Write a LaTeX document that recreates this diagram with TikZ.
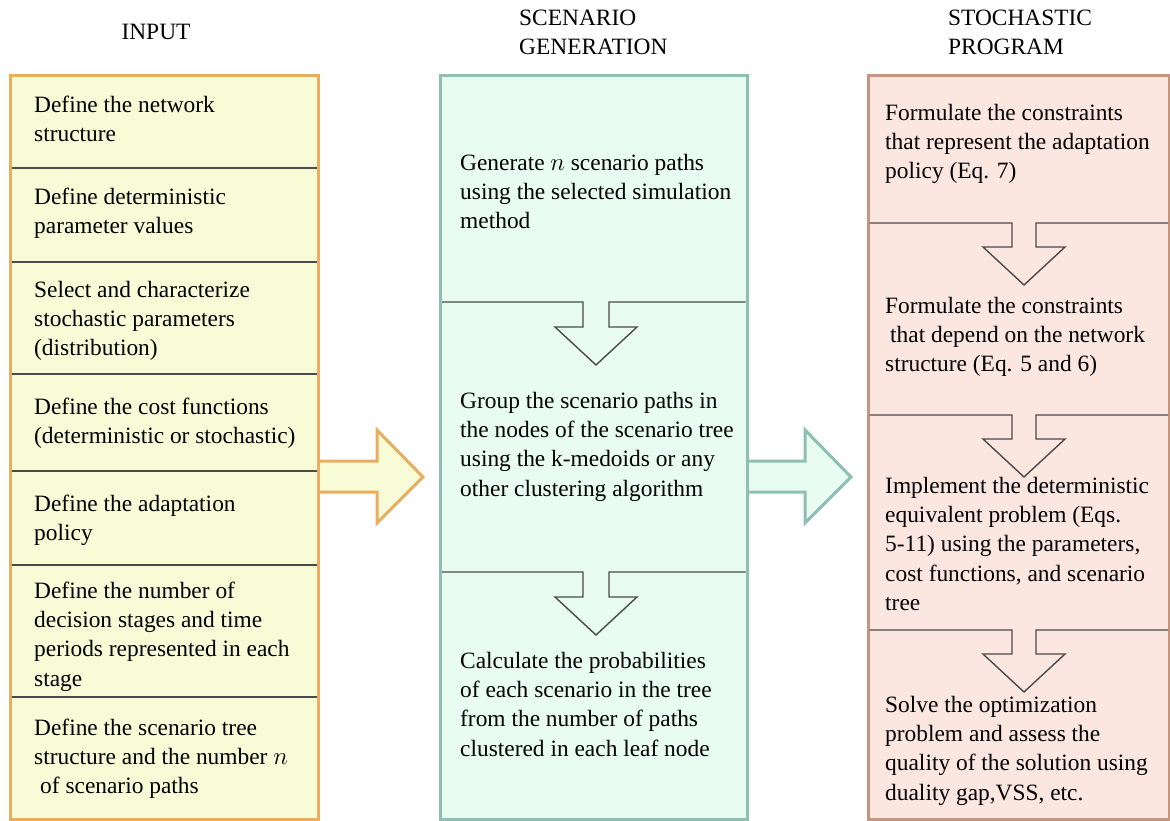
\documentclass[tikz,border=0pt]{standalone}
\usepackage{fontspec}
\setmainfont{Liberation Serif}
\definecolor{inborder}{HTML}{E8AD5E}
\definecolor{infill}{HTML}{F7FBD6}
\definecolor{scborder}{HTML}{8FBFB3}
\definecolor{scfill}{HTML}{E8FCF1}
\definecolor{spborder}{HTML}{C49680}
\definecolor{spfill}{HTML}{FBE6E0}
\definecolor{divgray}{HTML}{4A4A4A}
\newcommand{\fst}{\rule{0pt}{17pt}}
\tikzset{
  panel/.style={line width=3pt},
  divline/.style={draw=divgray, line width=1.4pt, line join=miter},
  txt/.style={anchor=north west, inner sep=0pt, align=left, font=\fontsize{23.4}{29.3}\selectfont},
  bigarrow/.style={line width=3pt, line join=miter}
}
\begin{document}
\begin{tikzpicture}[x=1pt,y=-1pt]
\useasboundingbox (0,0) rectangle (1170,821);
% big arrows (drawn first so that panel borders stay on top)
\draw[bigarrow, draw=inborder, fill=infill] (310,461) -- (377,461) -- (377,430) -- (423,477) -- (377,523) -- (377,492) -- (310,492);
\draw[bigarrow, draw=scborder, fill=scfill] (740,461) -- (805,461) -- (805,430) -- (851,477) -- (805,523) -- (805,492) -- (740,492);
% panels
\draw[panel, draw=inborder, fill=infill] (10.5,75.5) rectangle (318,819);
\draw[panel, draw=scborder, fill=scfill] (440.5,75.5) rectangle (747,819);
\draw[panel, draw=spborder, fill=spfill] (868,75.5) rectangle (1169.5,819);
% headers
\node[anchor=base, inner sep=0pt, font=\fontsize{23.4}{29.3}\selectfont] (hin) at (156,40) {INPUT};
\node[txt] (hsc) at (519,8) {\fst SCENARIO\\GENERATION};
\node[txt] (hsp) at (948,8) {\fst STOCHASTIC\\PROGRAM};
% left dividers
\foreach \y in {168,262,374,471,565,697}
  \draw[divline] (12,\y) -- (316.5,\y);
% middle dividers with down arrows
\foreach \y in {302,572}
  \draw[divline] (442,\y) -- (583,\y) -- (583,\y+25) -- (555,\y+25) -- (596,\y+63) -- (637,\y+25) -- (609,\y+25) -- (609,\y) -- (745.5,\y);
% right dividers with down arrows
\foreach \y in {223,415,630}
  \draw[divline] (869.5,\y) -- (1012,\y) -- (1012,\y+24) -- (983,\y+24) -- (1024,\y+62) -- (1065,\y+24) -- (1036,\y+24) -- (1036,\y) -- (1168,\y);
% left texts
\node[txt] (i1) at (34,95) {\fst Define the network\\structure};
\node[txt] (i2) at (34,187) {\fst Define deterministic\\parameter values};
\node[txt] (i3) at (34,280) {\fst Select and characterize\\stochastic parameters\\(distribution)};
\node[txt] (i4) at (34,397) {\fst Define the cost functions\\(deterministic or stochastic)};
\node[txt] (i5) at (34,494) {\fst Define the adaptation\\policy};
\node[txt] (i6) at (34,581) {\fst Define the number of\\decision stages and time\\periods represented in each\\stage};
\node[txt] (i7) at (34,718) {\fst Define the scenario tree\\structure and the number $n$\\\hspace*{6pt}of scenario paths};
% middle texts
\node[txt] (s1) at (460,153) {\fst Generate $n$ scenario paths\\using the selected simulation\\method};
\node[txt] (s2) at (460,391) {\fst Group the scenario paths in\\the nodes of the scenario tree\\using the k-medoids or any\\other clustering algorithm};
\node[txt] (s3) at (460,651) {\fst Calculate the probabilities\\of each scenario in the tree\\from the number of paths\\clustered in each leaf node};
% right texts
\node[txt] (p1) at (885,103) {\fst Formulate the constraints\\that represent the adaptation\\policy (Eq. 7)};
\node[txt] (p2) at (885,296) {\fst Formulate the constraints\\\hspace*{5pt}that depend on the network\\structure (Eq. 5 and 6)};
\node[txt] (p3) at (885,476) {\fst Implement the deterministic\\equivalent problem (Eqs.\\5-11) using the parameters,\\cost functions, and scenario\\tree};
\node[txt] (p4) at (885,695) {\fst Solve the optimization\\problem and assess the\\quality of the solution using\\duality gap,VSS, etc.};
\end{tikzpicture}
\end{document}
